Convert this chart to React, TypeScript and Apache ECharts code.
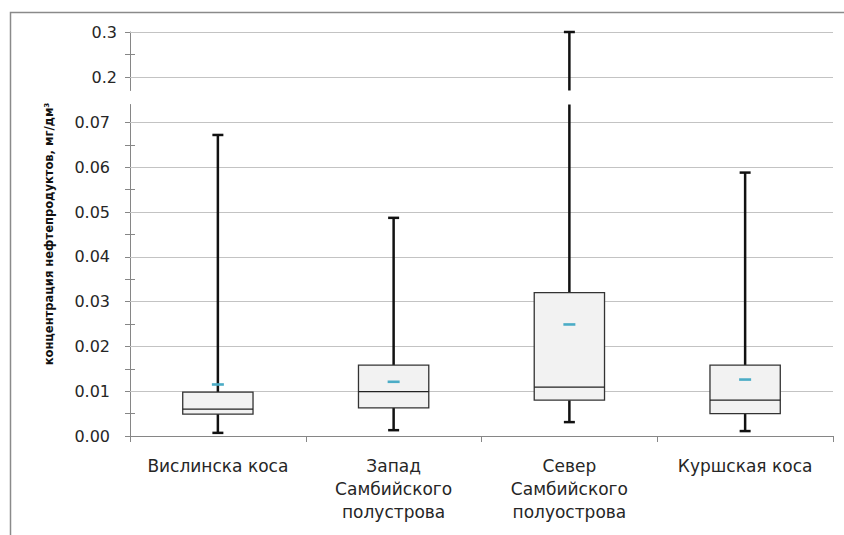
import React, { useEffect, useRef } from "react";
import * as echarts from "echarts";

const categories = [
  "Вислинска коса",
  "Запад\nСамбийского\nполустрова",
  "Север\nСамбийского\nполуострова",
  "Куршская коса",
];
const mins = [0.0007, 0.0013, 0.0031, 0.0011];
const q1s = [0.0049, 0.0063, 0.008, 0.005];
const medians = [0.006, 0.0099, 0.0109, 0.008];
const q3s = [0.0098, 0.0158, 0.032, 0.0158];
const maxs = [0.0672, 0.0487, 0.3, 0.0588];
const means = [0.0115, 0.0121, 0.0249, 0.0126];

const lowerTicks = [0, 0.01, 0.02, 0.03, 0.04, 0.05, 0.06, 0.07];
const lowerMinorTicks = [0.005, 0.015, 0.025, 0.035, 0.045, 0.055, 0.065];
const upperTicks = [0.2, 0.3];
const upperMinorTicks = [0.25];
const yTitle = "концентрация нефтепродуктов, мг/дм³";

const FONT = "'DejaVu Sans', sans-serif";
const AXIS = "#868686";
const GRID = "#c3c3c3";
const TEXT = "#262626";

const renderItem = (params: any, api: any) => {
  const i = api.value(0);
  const cs = params.coordSys;
  const top = cs.y;
  const bot = cs.y + cs.height;
  const band = api.size([1, 0])[0];
  const bw = band * 0.4;
  const cx = api.coord([i, 0])[0];
  const y = (v: number) => api.coord([i, v])[1];
  const yMin = y(api.value(1));
  const yQ1 = y(api.value(2));
  const yMed = y(api.value(3));
  const yQ3 = y(api.value(4));
  const yMax = y(api.value(5));
  const yMean = y(api.value(6));
  const children: any[] = [];
  const whisker = { stroke: "#111", lineWidth: 2.5 };
  const seg = (ya: number, yb: number) => {
    const a = Math.max(Math.min(ya, yb), top);
    const b = Math.min(Math.max(ya, yb), bot);
    if (b > a) {
      children.push({ type: "line", shape: { x1: cx, y1: a, x2: cx, y2: b }, style: whisker });
    }
  };
  const hline = (yy: number, half: number, style: any) => {
    if (yy >= top - 2 && yy <= bot + 2) {
      children.push({ type: "line", shape: { x1: cx - half, y1: yy, x2: cx + half, y2: yy }, style });
    }
  };
  seg(yMax, yQ3);
  seg(yQ1, yMin);
  hline(yMax, 5.5, whisker);
  hline(yMin, 5.5, whisker);
  const rTop = Math.max(yQ3, top);
  const rBot = Math.min(yQ1, bot);
  if (rBot > rTop) {
    children.push({
      type: "rect",
      shape: { x: cx - bw / 2, y: rTop, width: bw, height: rBot - rTop },
      style: { fill: "#f2f2f2", stroke: "#333", lineWidth: 1.3 },
    });
    hline(yMed, bw / 2, { stroke: "#222", lineWidth: 1.3 });
    hline(yMean, 6, { stroke: "#4bacc6", lineWidth: 2.6 });
  }
  return { type: "group", children };
};

const gridLines = (xIdx: number, yIdx: number, values: number[]) => ({
  type: "line",
  xAxisIndex: xIdx,
  yAxisIndex: yIdx,
  data: [],
  silent: true,
  z: 1,
  markLine: {
    silent: true,
    symbol: ["none", "none"],
    label: { show: false },
    emphasis: { disabled: true },
    lineStyle: { color: GRID, type: "solid", width: 1 },
    data: values.map((v) => ({ yAxis: v })),
  },
});

export default function App() {
  const ref = useRef<HTMLDivElement>(null);
  useEffect(() => {
    if (!ref.current) return;
    const chart = echarts.init(ref.current, undefined, { renderer: "svg" });
    const data = categories.map((_, i) => [i, mins[i], q1s[i], medians[i], q3s[i], maxs[i], means[i]]);
    const labelStyle = { color: TEXT, fontFamily: FONT, fontSize: 16 };
    chart.setOption({
      animation: false,
      backgroundColor: "#fff",
      grid: [
        { left: 130, right: 11, top: 104.5, bottom: 99 },
        { left: 130, right: 11, top: 32, height: 58.5 },
      ],
      xAxis: [
        {
          type: "category",
          gridIndex: 0,
          data: categories,
          axisLine: { lineStyle: { color: AXIS, width: 1 } },
          axisTick: { show: true, length: 6, lineStyle: { color: AXIS } },
          axisLabel: { ...labelStyle, fontSize: 17, interval: 0, margin: 18, lineHeight: 23 },
          z: 6,
        },
        { type: "category", gridIndex: 1, data: categories, show: false },
      ],
      yAxis: [
        {
          type: "value",
          gridIndex: 0,
          position: "left",
          min: 0,
          max: 0.074,
          interval: 0.01,
          axisLine: { show: true, lineStyle: { color: AXIS, width: 1 } },
          axisTick: { show: true, length: 5, lineStyle: { color: AXIS }, customValues: lowerTicks },
          axisLabel: { ...labelStyle, margin: 20, customValues: lowerTicks, formatter: (v: number) => v.toFixed(2) },
          splitLine: { show: false },
        },
        {
          type: "value",
          gridIndex: 0,
          position: "left",
          min: 0,
          max: 0.074,
          offset: -5,
          axisLine: { show: false },
          axisTick: { show: true, length: 10, lineStyle: { color: AXIS }, customValues: lowerMinorTicks },
          axisLabel: { show: false },
          splitLine: { show: false },
        },
        {
          type: "value",
          gridIndex: 1,
          position: "left",
          min: 0.17,
          max: 0.3,
          axisLine: { show: true, lineStyle: { color: AXIS, width: 1 } },
          axisTick: { show: true, length: 5, lineStyle: { color: AXIS }, customValues: upperTicks },
          axisLabel: { ...labelStyle, margin: 13, customValues: upperTicks, formatter: (v: number) => v.toFixed(1) },
          splitLine: { show: false },
        },
        {
          type: "value",
          gridIndex: 1,
          position: "left",
          min: 0.17,
          max: 0.3,
          offset: -5,
          axisLine: { show: false },
          axisTick: { show: true, length: 10, lineStyle: { color: AXIS }, customValues: upperMinorTicks },
          axisLabel: { show: false },
          splitLine: { show: false },
        },
      ],
      graphic: [
        {
          type: "rect",
          left: 8,
          top: 10,
          shape: { width: 900, height: 600 },
          style: { fill: "none", stroke: "#8a8a8a", lineWidth: 1.5 },
          silent: true,
          z: -1,
        },
        {
          type: "text",
          x: 48,
          y: 234,
          rotation: Math.PI / 2,
          style: {
            text: yTitle,
            fontFamily: "'Liberation Sans Narrow', 'DejaVu Sans Condensed', sans-serif",
            fontWeight: "bold",
            fontSize: 12.8,
            fill: "#111",
            textAlign: "center",
            textVerticalAlign: "middle",
          },
        },
      ],
      series: [
        gridLines(0, 0, lowerTicks),
        gridLines(1, 2, upperTicks),
        {
          type: "custom",
          xAxisIndex: 0,
          yAxisIndex: 0,
          clip: false,
          renderItem,
          encode: { x: 0, y: 1 },
          data,
          z: 5,
        },
        {
          type: "custom",
          xAxisIndex: 1,
          yAxisIndex: 2,
          clip: false,
          renderItem,
          encode: { x: 0, y: 1 },
          data,
          z: 5,
        },
      ],
    });
    return () => chart.dispose();
  }, []);
  return <div ref={ref} style={{ position: "fixed", left: 0, top: 0, width: 844, height: 535 }} />;
}
